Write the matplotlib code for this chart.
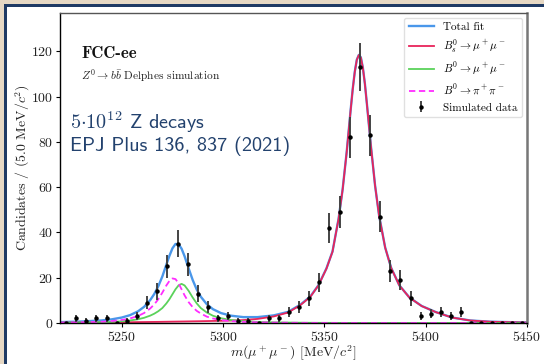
import numpy as np
import matplotlib
matplotlib.use('Agg')
import matplotlib.pyplot as plt
from matplotlib.patches import Rectangle

plt.rcParams['font.family'] = ['cmr10', 'DejaVu Serif']
plt.rcParams['mathtext.fontset'] = 'cm'
plt.rcParams['axes.formatter.use_mathtext'] = True
plt.rcParams['axes.unicode_minus'] = False

# ---- data ----
bin_centers = [5222.5, 5227.5, 5232.5, 5237.5, 5242.5, 5247.5, 5252.5, 5257.5,
               5262.5, 5267.5, 5272.5, 5277.5, 5282.5, 5287.5, 5292.5, 5297.5,
               5302.5, 5307.5, 5312.5, 5317.5, 5322.5, 5327.5, 5332.5, 5337.5,
               5342.5, 5347.5, 5352.5, 5357.5, 5362.5, 5367.5, 5372.5, 5377.5,
               5382.5, 5387.5, 5392.5, 5397.5, 5402.5, 5407.5, 5412.5, 5417.5,
               5422.5, 5427.5, 5432.5, 5437.5, 5442.5, 5447.5]
counts = [0, 2, 1, 2, 2, 0, 1, 3,
          9, 14, 25, 35, 26, 13, 7, 2,
          3, 1, 1, 0, 2, 2, 5, 7,
          11, 18, 42, 49, 82, 113, 83, 47,
          23, 19, 11, 3, 4, 5, 3, 5,
          0, 0, 0, 0, 0, 0]

curve_x = [5220, 5230, 5240, 5245, 5250, 5254, 5258, 5261, 5264, 5266,
           5268, 5270, 5272, 5273.5, 5275, 5276.5, 5278, 5279.5, 5281, 5283,
           5285, 5287, 5289, 5292, 5295, 5299, 5304, 5310, 5317, 5325,
           5332, 5338, 5343, 5347, 5351, 5354, 5357, 5359, 5361, 5363,
           5364, 5365, 5366, 5367, 5368, 5369, 5370, 5371, 5373, 5375,
           5377, 5380, 5383, 5387, 5392, 5398, 5405, 5413, 5422, 5432,
           5450]
bs_mumu = [0.15, 0.2, 0.25, 0.28, 0.32, 0.35, 0.4, 0.43, 0.46, 0.48,
           0.5, 0.53, 0.56, 0.58, 0.6, 0.62, 0.64, 0.66, 0.68, 0.71,
           0.74, 0.77, 0.8, 0.85, 0.9, 0.97, 1.07, 1.3, 1.8, 2.9,
           4.6, 7.8, 11.5, 16.5, 24.0, 31.5, 46.0, 59.0, 75.5, 94.5,
           103.5, 111.0, 116.3, 118.4, 117.3, 112.7, 105.6, 96.6, 77.8, 60.8,
           47.4, 33.3, 24.2, 16.6, 11.2, 7.5, 4.8, 2.4, 1.1, 0.55,
           0.2]
b0_mumu = [0.1, 0.17, 0.33, 0.48, 0.75, 1.1, 1.65, 2.3, 3.25, 4.1,
           5.2, 6.6, 8.65, 10.5, 12.7, 14.9, 16.6, 17.3, 16.6, 14.2,
           11.25, 8.65, 6.6, 4.6, 3.2, 2.1, 1.3, 0.8, 0.5, 0.3,
           0.2, 0.14, 0.1, 0.08, 0.07, 0.06, 0.05, 0.05, 0.04, 0.04,
           0.04, 0.04, 0.04, 0.04, 0.04, 0.04, 0.03, 0.03, 0.03, 0.03,
           0.03, 0.03, 0.03, 0.02, 0.02, 0.02, 0.02, 0.01, 0.01, 0.01,
           0.01]
b0_pipi = [0.15, 0.28, 0.55, 0.85, 1.35, 2.0, 3.1, 4.4, 6.4, 8.2,
           10.5, 13.4, 16.6, 18.6, 19.7, 19.4, 17.6, 14.9, 12.2, 9.2,
           7.0, 5.35, 4.2, 2.8, 2.0, 1.3, 0.85, 0.5, 0.3, 0.17,
           0.1, 0.07, 0.05, 0.04, 0.04, 0.03, 0.03, 0.03, 0.03, 0.03,
           0.03, 0.03, 0.03, 0.03, 0.03, 0.03, 0.02, 0.02, 0.02, 0.02,
           0.02, 0.02, 0.02, 0.02, 0.02, 0.01, 0.01, 0.01, 0.01, 0.01,
           0.01]

x_ticks = [5250, 5300, 5350, 5400, 5450]
y_ticks = [0, 20, 40, 60, 80, 100, 120]

# ---- figure ----
W, H = 544, 364
fig = plt.figure(figsize=(W / 100, H / 100), dpi=100)
fig.patch.set_facecolor('#e6d8c4')
fig.patches.append(Rectangle((7 / W, 0), 1 - 7 / W, 1 - 7.3 / H, transform=fig.transFigure,
                             facecolor='white', edgecolor='none', zorder=-10))
fig.patches.append(Rectangle((4 / W, 0), 3 / W, 1 - 4.3 / H, transform=fig.transFigure,
                             facecolor='#1e3a64', edgecolor='none', zorder=-9))
fig.patches.append(Rectangle((4 / W, 1 - 7.3 / H), 1 - 4 / W, 3 / H, transform=fig.transFigure,
                             facecolor='#1e3a64', edgecolor='none', zorder=-9))

ax = fig.add_axes([60 / W, 41 / H, 467 / W, 310 / H])
ax.set_facecolor('white')

total = np.array(bs_mumu) + np.array(b0_mumu) + np.array(b0_pipi)
ax.plot(curve_x, total, color='#4a97ea', lw=1.7, label='Total fit')
ax.plot(curve_x, bs_mumu, color='#e8245a', lw=1.3, label=r'$B_s^0 \to \mu^+\mu^-$')
ax.plot(curve_x, b0_mumu, color='#5ad25a', lw=1.3, label=r'$B^0 \to \mu^+\mu^-$')
ax.plot(curve_x, b0_pipi, color='#ff2cff', lw=1.3, ls='--', dashes=(3.5, 2),
        label=r'$B^0 \to \pi^+\pi^-$')
ax.errorbar(bin_centers, counts, yerr=np.sqrt(counts), fmt='o', ms=2.2,
            color='black', ecolor='#444444', elinewidth=1.4, capsize=0,
            label='Simulated data')

ax.set_xlim(5219.5, 5450)
ax.set_ylim(0, 137)
ax.set_xticks(x_ticks)
ax.set_yticks(y_ticks)
ax.tick_params(direction='out', length=3, width=0.8, labelsize=10,
               labelcolor='#222222', top=False, right=False, pad=2)
for s in ['left', 'bottom']:
    ax.spines[s].set_color('black')
    ax.spines[s].set_linewidth(1.0)
ax.spines['top'].set_color('#555555')
ax.spines['top'].set_linewidth(1.0)
ax.spines['right'].set_color('#777777')
ax.spines['right'].set_linewidth(1.8)

ax.set_ylabel(r'Candidates / (5.0 MeV/$c^2$)', fontsize=10, color='#222222')
ax.yaxis.set_label_coords((32 - 60) / 467, 0.5)
ax.set_xlabel(r'$m(\mu^+\mu^-)$ [MeV/$c^2$]', fontsize=10, color='#222222')
ax.xaxis.set_label_coords(0.5, -(344 - 323) / 310)

leg = ax.legend(loc='upper right', fontsize=8, borderaxespad=0.45,
                handlelength=2.3, edgecolor='#dddddd', framealpha=0.9)

fig.text(81 / W, 1 - 57.5 / H, 'FCC-ee', fontname='cmb10', fontsize=12,
         va='baseline', color='#111111')
fig.text(81 / W, 1 - 80 / H, r'$Z^0 \to b\bar{b}$ Delphes simulation', fontsize=8.2,
         va='baseline', color='#222222')
fig.text(70 / W, 1 - 128.7 / H, r'$\mathsf{5{\cdot}10^{12}}$ Z decays', fontname='cmss10',
         fontsize=14.6, va='baseline', color='#23426e')
fig.text(70 / W, 1 - 150.5 / H, 'EPJ Plus 136, 837 (2021)', fontname='cmss10',
         fontsize=14.6, va='baseline', color='#23426e')

fig.savefig('out.png', dpi=100, facecolor=fig.get_facecolor())
